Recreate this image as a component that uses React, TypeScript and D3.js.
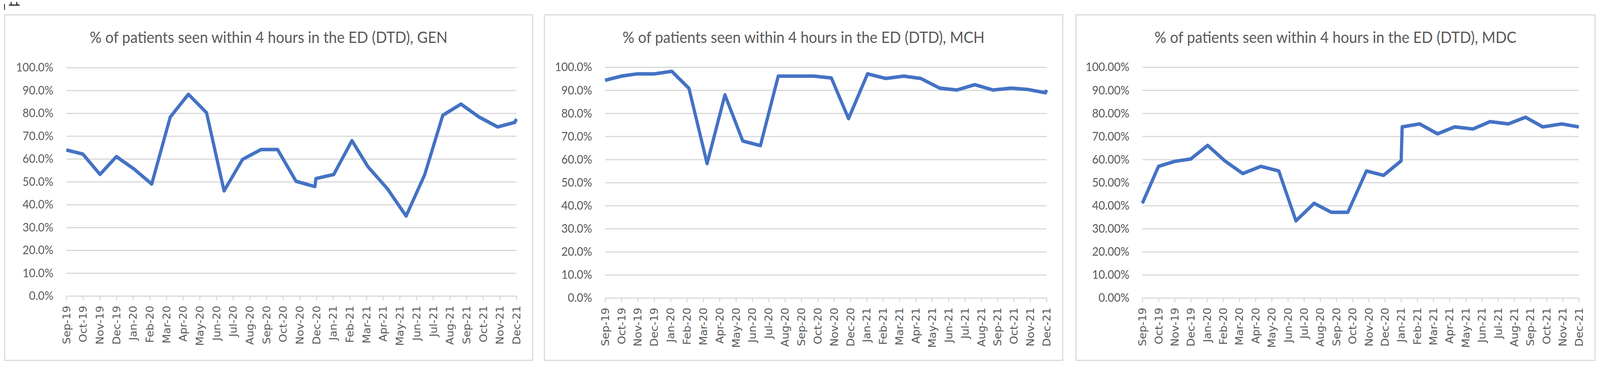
import { useEffect, useRef } from "react";
import * as d3 from "d3";

// category labels on the x axis
const months = [
  "Sep-19", "Oct-19", "Nov-19", "Dec-19", "Jan-20", "Feb-20", "Mar-20",
  "Apr-20", "May-20", "Jun-20", "Jul-20", "Aug-20", "Sep-20", "Oct-20",
  "Nov-20", "Dec-20", "Jan-21", "Feb-21", "Mar-21", "Apr-21", "May-21",
  "Jun-21", "Jul-21", "Aug-21", "Sep-21", "Oct-21", "Nov-21", "Dec-21",
];

const yTicks = [0, 10, 20, 30, 40, 50, 60, 70, 80, 90, 100];

// GEN: position of each point (in months from Sep-19) and its value (%)
const genAt = [
  0, 0.99, 2.02, 3.0, 4.07, 5.12, 6.23, 7.32, 8.41, 9.46, 10.57, 11.68, 12.67,
  13.78, 14.91, 14.97, 16.04, 17.13, 18.1, 19.25, 20.38, 21.49, 22.58, 23.67,
  24.74, 25.87, 26.9, 27.0,
];
const genPct = [
  63.9, 62.1, 53.2, 61.0, 55.5, 49.0, 78.3, 88.3, 80.2, 46.0, 59.8, 64.1, 64.1,
  50.2, 47.9, 51.4, 53.2, 68.0, 56.5, 47.0, 35.0, 53.0, 79.1, 84.0, 78.4, 74.0,
  76.0, 77.5,
];

// MCH
const mchAt = [
  0, 0.99, 1.97, 3.03, 4.08, 5.13, 6.24, 7.33, 8.42, 9.5, 10.59, 11.68, 12.79,
  13.84, 14.89, 16.05, 17.16, 18.26, 19.31, 20.46, 21.51, 22.61, 23.72, 24.83,
  25.88, 26.93, 27.0,
];
const mchPct = [
  94.3, 96.1, 97.1, 97.1, 98.2, 90.8, 58.2, 88.0, 68.0, 66.0, 96.1, 96.1, 96.1,
  95.3, 77.7, 97.1, 95.1, 96.1, 95.1, 90.9, 90.1, 92.4, 90.1, 90.9, 90.3, 88.9,
  90.1,
];

// MDC
const mdcAt = [
  0, 1.0, 2.02, 3.0, 4.04, 5.1, 6.21, 7.33, 8.44, 9.5, 10.63, 11.69, 12.71,
  13.86, 14.92, 16.01, 16.07, 17.15, 18.26, 19.32, 20.45, 21.51, 22.64, 23.7,
  24.77, 25.94, 27.0,
];
const mdcPct = [
  41.0, 57.0, 59.2, 60.2, 66.1, 59.4, 53.9, 57.0, 55.0, 33.4, 41.0, 37.1, 37.1,
  55.0, 53.1, 59.4, 74.1, 75.4, 71.1, 74.1, 73.2, 76.4, 75.4, 78.3, 74.1, 75.4,
  74.1,
];

const titleBase = "% of patients seen within 4 hours in the ED (DTD), ";

const W = 4461;
const H = 940;

const panels = [
  {
    site: "GEN", at: genAt, pct: genPct, decimals: 1,
    frame: { x0: 13, y0: 38, x1: 1485, y1: 923 },
    plot: { left: 185, right: 1440, top: 173, bottom: 758 },
  },
  {
    site: "MCH", at: mchAt, pct: mchPct, decimals: 1,
    frame: { x0: 1518, y0: 38, x1: 2963, y1: 923 },
    plot: { left: 1687, right: 2918, top: 172, bottom: 763 },
  },
  {
    site: "MDC", at: mdcAt, pct: mdcPct, decimals: 2,
    frame: { x0: 3000, y0: 38, x1: 4447, y1: 923 },
    plot: { left: 3185, right: 4402, top: 172, bottom: 763 },
  },
];

const GRID = "#d9d9d9";
const TEXT = "#595959";
const LINE = "#4472c4";

export default function App() {
  const svgRef = useRef<SVGSVGElement>(null);

  useEffect(() => {
    document.body.style.margin = "0";
    document.body.style.overflow = "hidden";
    if (!svgRef.current) return;
    const svg = d3.select(svgRef.current);
    svg.selectAll("*").remove();

    svg.append("rect").attr("width", W).attr("height", H).attr("fill", "#fff");

    // small cropped mark in the top-left corner
    svg.append("line").attr("x1", 12.5).attr("x2", 12.5).attr("y1", 10).attr("y2", 25)
      .attr("stroke", "#000").attr("stroke-width", 2);
    svg.append("path").attr("d", "M25 13 H55 M31 5 V13 M47 5 V13")
      .attr("stroke", "#000").attr("stroke-width", 2.5).attr("fill", "none");

    panels.forEach((p) => {
      const { frame, plot } = p;
      const g = svg.append("g");

      g.append("rect")
        .attr("x", frame.x0).attr("y", frame.y0)
        .attr("width", frame.x1 - frame.x0).attr("height", frame.y1 - frame.y0)
        .attr("fill", "#fff").attr("stroke", GRID).attr("stroke-width", 3);

      g.append("text")
        .attr("x", (frame.x0 + frame.x1) / 2).attr("y", 110)
        .attr("text-anchor", "middle").attr("fill", TEXT)
        .style("font-family", "Lato, 'Open Sans', sans-serif")
        .style("font-size", "41px")
        .text(titleBase + p.site);

      const y = d3.scaleLinear().domain([0, 100]).range([plot.bottom, plot.top]);
      const xCat = d3.scalePoint<string>().domain(months).range([plot.left, plot.right]);
      const xPos = d3.scaleLinear().domain([0, months.length - 1]).range([plot.left, plot.right]);

      // gridlines + y labels
      const ya = g.append("g")
        .attr("transform", `translate(${plot.left},0)`)
        .call(
          d3.axisLeft(y)
            .tickValues(yTicks)
            .tickSize(-(plot.right - plot.left))
            .tickPadding(36)
            .tickFormat((d) => `${(+d).toFixed(p.decimals)}%`)
        );
      ya.select(".domain").remove();
      ya.selectAll("line").attr("stroke", GRID).attr("stroke-width", 3);
      ya.selectAll("text")
        .attr("fill", TEXT)
        .style("font-family", "Lato, 'Open Sans', sans-serif")
        .style("font-size", "31px");

      // x axis with rotated month labels
      const xa = g.append("g")
        .attr("transform", `translate(0,${plot.bottom})`)
        .call(d3.axisBottom(xCat).tickSize(11).tickSizeOuter(0));
      xa.select(".domain").attr("stroke", GRID).attr("stroke-width", 3);
      xa.selectAll("line").attr("stroke", GRID).attr("stroke-width", 3);
      xa.selectAll("text")
        .attr("transform", "rotate(-90)")
        .attr("text-anchor", "end")
        .attr("x", -25)
        .attr("y", 0)
        .attr("dy", "0.36em")
        .attr("fill", TEXT)
        .style("font-family", "'DejaVu Sans', sans-serif")
        .style("font-size", "28px");

      const lineGen = d3.line<number>()
        .x((_d, i) => xPos(p.at[i]))
        .y((d) => y(d));

      g.append("path")
        .datum(p.pct)
        .attr("d", lineGen)
        .attr("fill", "none")
        .attr("stroke", LINE)
        .attr("stroke-width", 9)
        .attr("stroke-linejoin", "round");
    });
  }, []);

  return (
    <svg
      ref={svgRef}
      viewBox={`0 0 ${W} ${H}`}
      preserveAspectRatio="none"
      style={{
        position: "fixed",
        left: 0,
        top: 0,
        width: "100vw",
        height: "100vh",
        display: "block",
      }}
    />
  );
}
